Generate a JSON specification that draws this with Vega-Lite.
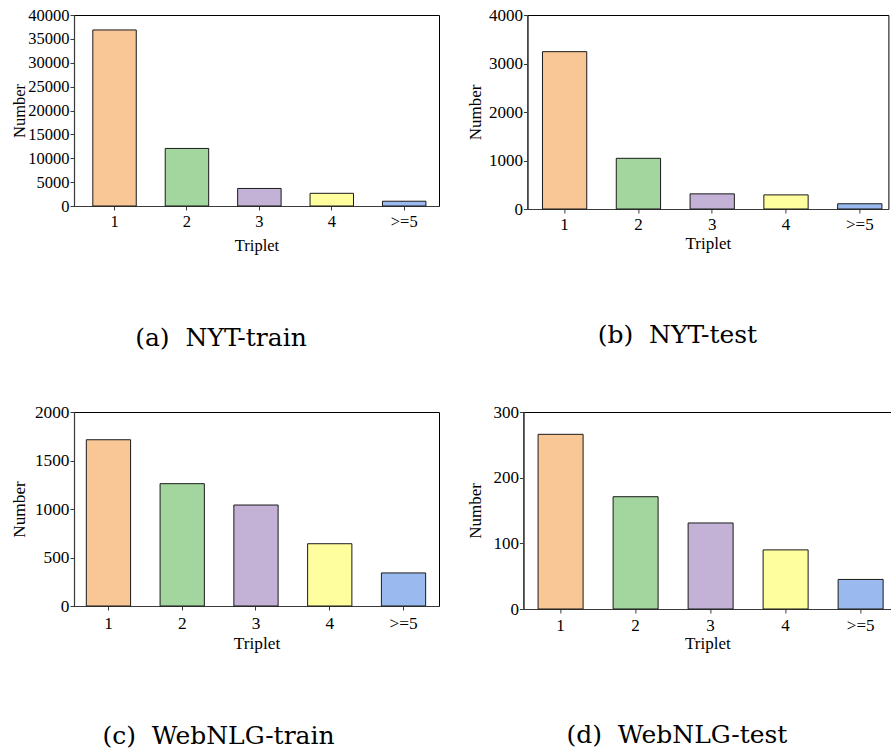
{
  "$schema": "https://vega.github.io/schema/vega-lite/v6.json",
  "background": "white",
  "padding": {"left": 9, "top": 5, "right": 0, "bottom": 0},
  "config": {
    "view": {"stroke": "black", "strokeWidth": 1},
    "font": "Liberation Serif",
    "axis": {
      "labelFont": "Liberation Serif",
      "titleFont": "Liberation Serif",
      "labelFontSize": 16.5,
      "titleFontSize": 16.5,
      "titleFontWeight": "normal",
      "labelColor": "black",
      "titleColor": "black",
      "domainColor": "#3a3a3a",
      "tickColor": "#3a3a3a",
      "domainWidth": 1.2,
      "tickWidth": 1,
      "tickSize": 4,
      "grid": false
    },
    "axisY": {"labelPadding": 1, "titleBaseline": "middle", "format": "d"},
    "axisX": {"labelAngle": 0, "labelPadding": 3},
    "bar": {"stroke": "#1a1a1a", "strokeWidth": 1},
    "title": {"font": "DejaVu Serif", "fontSize": 25, "fontWeight": "normal", "color": "black", "orient": "bottom", "anchor": "middle", "frame": "bounds", "offset": 72}
  },
  "datasets": {
    "nyt_train": [
      {"triplet": "1", "number": 36868},
      {"triplet": "2", "number": 12058},
      {"triplet": "3", "number": 3672},
      {"triplet": "4", "number": 2660},
      {"triplet": ">=5", "number": 1000}
    ],
    "nyt_test": [
      {"triplet": "1", "number": 3244},
      {"triplet": "2", "number": 1045},
      {"triplet": "3", "number": 312},
      {"triplet": "4", "number": 291},
      {"triplet": ">=5", "number": 108}
    ],
    "webnlg_train": [
      {"triplet": "1", "number": 1714},
      {"triplet": "2", "number": 1261},
      {"triplet": "3", "number": 1041},
      {"triplet": "4", "number": 642},
      {"triplet": ">=5", "number": 341}
    ],
    "webnlg_test": [
      {"triplet": "1", "number": 266},
      {"triplet": "2", "number": 171},
      {"triplet": "3", "number": 131},
      {"triplet": "4", "number": 90},
      {"triplet": ">=5", "number": 45}
    ]
  },
  "columns": 2,
  "align": "none",
  "spacing": {"row": 50, "column": 25.4},
  "concat": [
    {
      "data": {"name": "nyt_train"},
      "width": 365,
      "height": 191,
      "title": {"text": "(a)\u00a0\u00a0NYT-train", "dx": -4},
      "mark": {"type": "bar"},
      "encoding": {
        "x": {"field": "triplet", "type": "ordinal", "sort": ["1", "2", "3", "4", ">=5"],
              "scale": {"paddingInner": 0.4, "paddingOuter": 0.22, "align": 0.59},
              "axis": {"title": "Triplet", "titlePadding": 8}},
        "y": {"field": "number", "type": "quantitative",
              "scale": {"domain": [0, 40000], "nice": false},
              "axis": {"title": "Number", "titleX": -55, "values": [0, 5000, 10000, 15000, 20000, 25000, 30000, 35000, 40000]}},
        "color": {"field": "triplet", "type": "nominal",
                  "scale": {"domain": ["1", "2", "3", "4", ">=5"], "range": ["#f9c795", "#a2d69e", "#c3b2d6", "#fffe9e", "#9abaef"]},
                  "legend": null}
      }
    },
    {
      "data": {"name": "nyt_test"},
      "width": 361,
      "height": 194,
      "title": {"text": "(b)\u00a0\u00a0NYT-test"},
      "mark": {"type": "bar"},
      "encoding": {
        "x": {"field": "triplet", "type": "ordinal", "sort": ["1", "2", "3", "4", ">=5"],
              "scale": {"paddingInner": 0.4, "paddingOuter": 0.146, "align": 0.7},
              "axis": {"title": "Triplet", "titlePadding": 3, "labelFontSize": 17, "titleFontSize": 17}},
        "y": {"field": "number", "type": "quantitative",
              "scale": {"domain": [0, 4000], "nice": false},
              "axis": {"title": "Number", "titleX": -52, "values": [0, 1000, 2000, 3000, 4000], "labelFontSize": 17, "titleFontSize": 17}},
        "color": {"field": "triplet", "type": "nominal",
                  "scale": {"domain": ["1", "2", "3", "4", ">=5"], "range": ["#f9c795", "#a2d69e", "#c3b2d6", "#fffe9e", "#9abaef"]},
                  "legend": null}
      }
    },
    {
      "data": {"name": "webnlg_train"},
      "width": 365,
      "height": 194,
      "title": {"text": "(c)\u00a0\u00a0WebNLG-train", "dx": -6},
      "mark": {"type": "bar"},
      "encoding": {
        "x": {"field": "triplet", "type": "ordinal", "sort": ["1", "2", "3", "4", ">=5"],
              "scale": {"paddingInner": 0.4, "paddingOuter": 0.174, "align": 0.48},
              "axis": {"title": "Triplet", "titlePadding": 3, "labelPadding": 4, "labelFontSize": 17.3, "titleFontSize": 17.3}},
        "y": {"field": "number", "type": "quantitative",
              "scale": {"domain": [0, 2000], "nice": false},
              "axis": {"title": "Number", "titleX": -55, "values": [0, 500, 1000, 1500, 2000], "labelFontSize": 17.3, "titleFontSize": 17.3}},
        "color": {"field": "triplet", "type": "nominal",
                  "scale": {"domain": ["1", "2", "3", "4", ">=5"], "range": ["#f9c795", "#a2d69e", "#c3b2d6", "#fffe9e", "#9abaef"]},
                  "legend": null}
      }
    },
    {
      "data": {"name": "webnlg_test"},
      "width": 368,
      "height": 197,
      "title": {"text": "(d)\u00a0\u00a0WebNLG-test", "dx": -2},
      "mark": {"type": "bar"},
      "encoding": {
        "x": {"field": "triplet", "type": "ordinal", "sort": ["1", "2", "3", "4", ">=5"],
              "scale": {"paddingInner": 0.4, "paddingOuter": 0.153, "align": 0.64},
              "axis": {"title": "Triplet", "titlePadding": 2, "labelPadding": 4, "labelFontSize": 17, "titleFontSize": 17}},
        "y": {"field": "number", "type": "quantitative",
              "scale": {"domain": [0, 300], "nice": false},
              "axis": {"title": "Number", "titleX": -48, "values": [0, 100, 200, 300], "labelFontSize": 17, "titleFontSize": 17}},
        "color": {"field": "triplet", "type": "nominal",
                  "scale": {"domain": ["1", "2", "3", "4", ">=5"], "range": ["#f9c795", "#a2d69e", "#c3b2d6", "#fffe9e", "#9abaef"]},
                  "legend": null}
      }
    }
  ]
}
